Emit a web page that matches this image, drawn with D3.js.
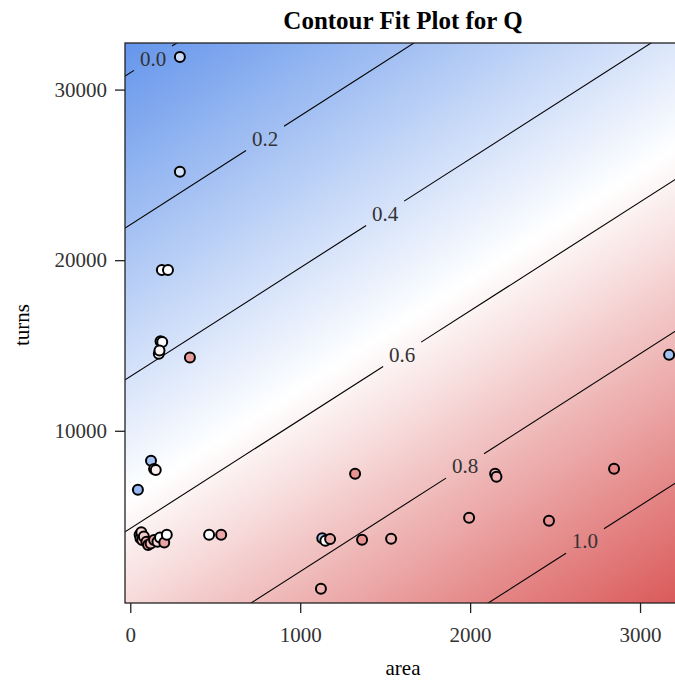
<!DOCTYPE html>
<html>
<head>
<meta charset="utf-8">
<script src="https://cdn.jsdelivr.net/npm/d3@7"></script>
<style>
  html, body { margin: 0; padding: 0; background: #ffffff; }
  svg { display: block; }
</style>
</head>
<body>
<script>
// ---- data ----
const area  = [292, 292, 186, 222, 178, 188, 168, 172, 351, 122, 140, 150, 45,
               55, 60, 65, 70, 80, 95, 105, 120, 140, 160, 175, 200, 215,
               464, 535, 1130, 1148, 1176, 1122, 1323, 1364, 1535, 1994, 2147, 2155, 2464, 2847, 3171];
const turns = [31909, 25181, 19430, 19430, 15250, 15200, 14520, 14700, 14300, 8240, 7760, 7700, 6545,
               3900, 3700, 4050, 3600, 3800, 3500, 3300, 3400, 3600, 3500, 3750, 3450, 3900,
               3910, 3910, 3700, 3550, 3650, 740, 7480, 3610, 3670, 4900, 7480, 7300, 4730, 7770, 14450];
const Q     = [0.35, 0.4, 0.55, 0.55, 0.35, 0.55, 0.58, 0.6, 0.92, 0.2, 0.6, 0.62, 0.15,
               0.55, 0.6, 0.7, 0.85, 0.75, 0.9, 0.95, 0.8, 0.9, 0.7, 0.55, 0.9, 0.55,
               0.55, 0.88, 0.25, 0.55, 0.88, 0.84, 0.95, 0.96, 0.83, 0.87, 0.82, 0.84, 0.95, 1.0, 0.2];

// fitted linear surface Q ~ intercept + b_area*area + b_turns*turns
const fitIntercept = 0.696;
const fitArea = 1.4332e-4;
const fitTurns = -2.2464e-5;

const contourLevels = [0.0, 0.2, 0.4, 0.6, 0.8, 1.0];
const contourLabelArea = [134, 793, 1500, 1600, 1970, 2676];

const xTicks = [0, 1000, 2000, 3000];
const yTicks = [10000, 20000, 30000];
const xDomain = [-31, 3241];
const yDomain = [-94, 32730];

const colorStops = ["#6495EB", "#FFFFFF", "#DA5858"];
const colorDomain = [-0.045, 0.56, 1.165];

// ---- layout ----
const W = 675, H = 680;
const L = 125, R = 681, T = 43, B = 603;
const font = "'Liberation Serif', 'Times New Roman', serif";

const svg = d3.select("body").append("svg").attr("width", W).attr("height", H);
const x = d3.scaleLinear().domain(xDomain).range([L, R]);
const y = d3.scaleLinear().domain(yDomain).range([B, T]);
const color = d3.scaleLinear().domain(colorDomain).range(colorStops).clamp(true);
const fit = (a, t) => fitIntercept + fitArea * a + fitTurns * t;

const defs = svg.append("defs");
defs.append("clipPath").attr("id", "plotclip")
  .append("rect").attr("x", L).attr("y", T).attr("width", R - L).attr("height", B - T);

// background gradient (linear surface -> linear gradient in pixel space)
const q00 = fit(x.invert(L), y.invert(T));
const gx = fit(x.invert(L + 1), y.invert(T)) - q00;
const gy = fit(x.invert(L), y.invert(T + 1)) - q00;
const gmag = Math.hypot(gx, gy);
const qMax = fit(x.invert(R), y.invert(B));
const len = (qMax - q00) / gmag;
const ux = gx / gmag, uy = gy / gmag;
const grad = defs.append("linearGradient").attr("id", "bg")
  .attr("gradientUnits", "userSpaceOnUse")
  .attr("x1", L).attr("y1", T)
  .attr("x2", L + ux * len).attr("y2", T + uy * len);
const nStops = 40;
for (let i = 0; i <= nStops; i++) {
  const t = i / nStops;
  grad.append("stop").attr("offset", t).attr("stop-color", color(q00 + t * (qMax - q00)));
}
svg.append("rect").attr("x", L).attr("y", T).attr("width", R - L).attr("height", B - T)
  .attr("fill", "url(#bg)");

// contour lines with gaps for labels
const gPlot = svg.append("g").attr("clip-path", "url(#plotclip)");
const gapArea = 19 / (x(1000) - x(0)) * 1000;
const turnsAt = (lev, a) => (lev - fitIntercept - fitArea * a) / fitTurns;
contourLevels.forEach((lev, i) => {
  const la = contourLabelArea[i];
  const segs = [[xDomain[0] - 500, la - gapArea], [la + gapArea, xDomain[1] + 500]];
  segs.forEach(s => {
    gPlot.append("line")
      .attr("x1", x(s[0])).attr("y1", y(turnsAt(lev, s[0])))
      .attr("x2", x(s[1])).attr("y2", y(turnsAt(lev, s[1])))
      .attr("stroke", "#000").attr("stroke-width", 1.1);
  });
  gPlot.append("text")
    .attr("x", x(la)).attr("y", y(turnsAt(lev, la)))
    .attr("dy", "0.35em")
    .attr("text-anchor", "middle")
    .attr("font-family", font).attr("font-size", 21)
    .attr("fill", "#333")
    .text(d3.format(".1f")(lev));
});

// points
const pts = area.map((a, i) => ({a, t: turns[i], q: Q[i]}));
gPlot.selectAll("circle.pt").data(pts).enter().append("circle")
  .attr("class", "pt")
  .attr("cx", d => x(d.a)).attr("cy", d => y(d.t)).attr("r", 5)
  .attr("fill", d => color(d.q))
  .attr("stroke", "#000").attr("stroke-width", 2);

// frame
svg.append("rect").attr("x", L).attr("y", T).attr("width", R - L).attr("height", B - T)
  .attr("fill", "none").attr("stroke", "#222").attr("stroke-width", 1.3);

// axes
const xAxis = svg.append("g").attr("transform", `translate(0,${B})`)
  .call(d3.axisBottom(x).tickValues(xTicks).tickSize(10).tickPadding(14).tickFormat(d3.format("d")));
const yAxis = svg.append("g").attr("transform", `translate(${L},0)`)
  .call(d3.axisLeft(y).tickValues(yTicks).tickSize(10).tickPadding(8).tickFormat(d3.format("d")));
[xAxis, yAxis].forEach(g => {
  g.select(".domain").remove();
  g.selectAll(".tick line").attr("stroke", "#222").attr("stroke-width", 1.3);
  g.selectAll(".tick text").attr("font-family", font).attr("font-size", 21).attr("fill", "#333");
});

// title and axis labels
svg.append("text").attr("x", (L + R) / 2).attr("y", 29)
  .attr("text-anchor", "middle").attr("font-family", font)
  .attr("font-size", 25).attr("font-weight", "bold").attr("fill", "#000")
  .text("Contour Fit Plot for Q");
svg.append("text").attr("x", (L + R) / 2).attr("y", 675)
  .attr("text-anchor", "middle").attr("font-family", font)
  .attr("font-size", 21).attr("fill", "#000")
  .text("area");
svg.append("text").attr("transform", `translate(29,325) rotate(-90)`)
  .attr("text-anchor", "middle").attr("font-family", font)
  .attr("font-size", 21).attr("fill", "#000")
  .text("turns");
</script>
</body>
</html>
